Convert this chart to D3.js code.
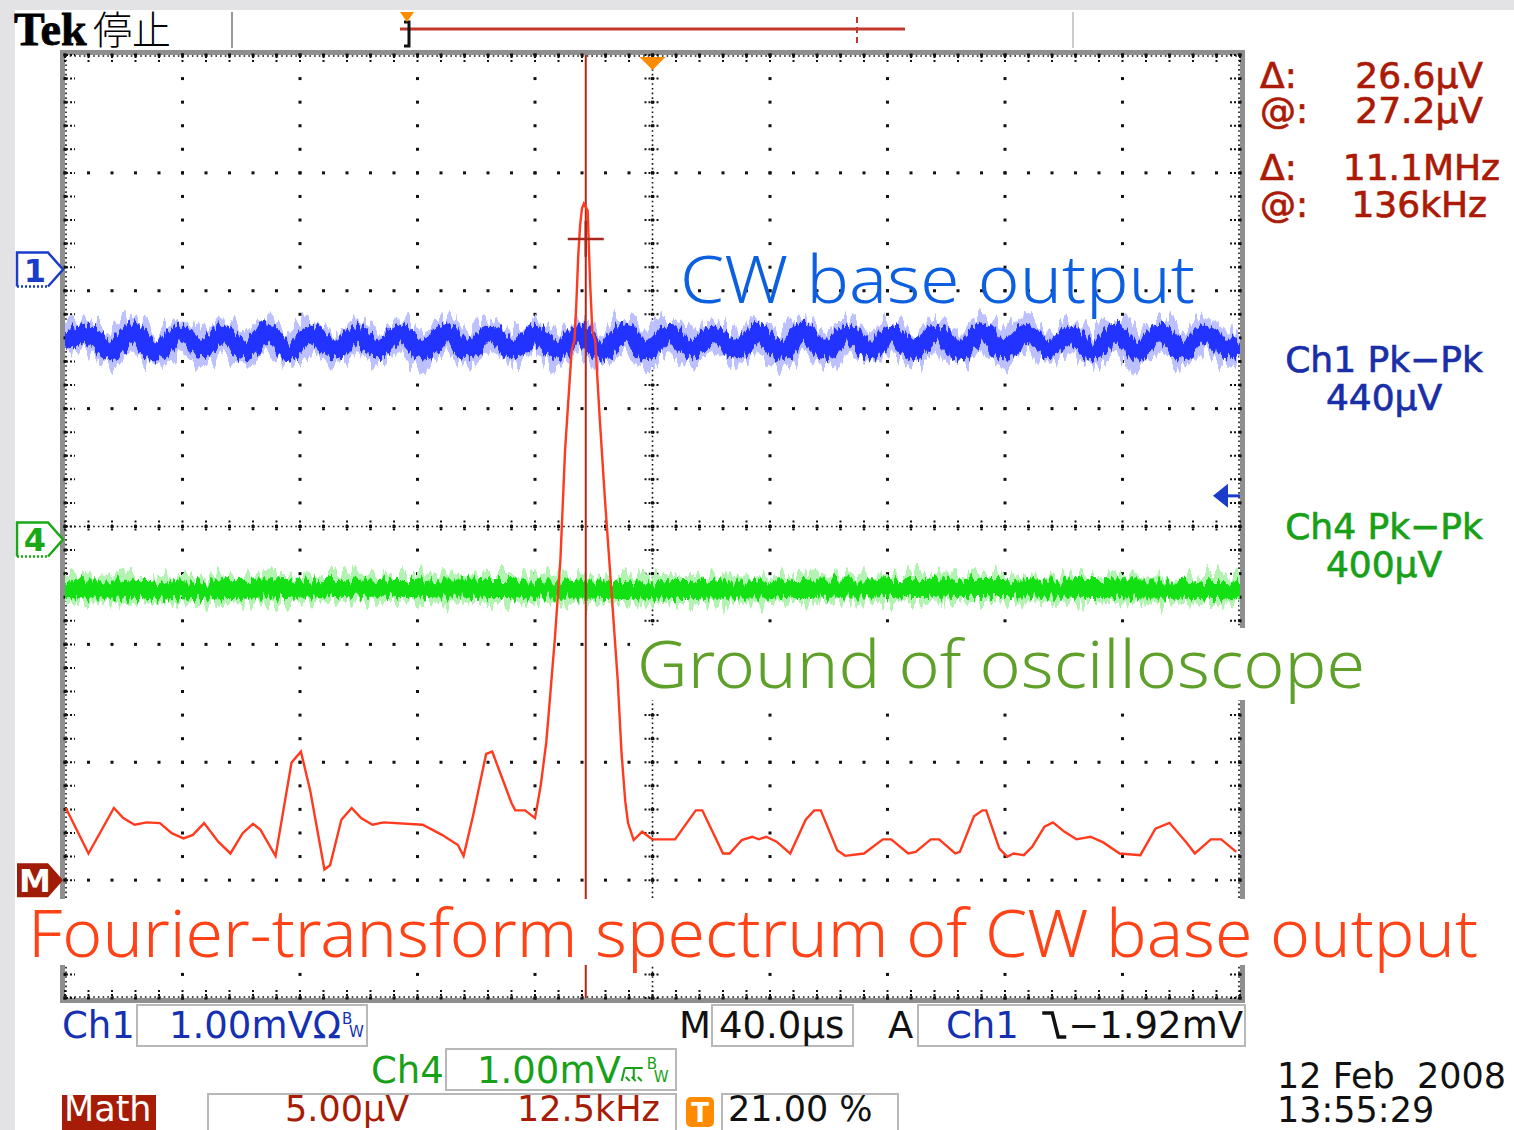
<!DOCTYPE html>
<html>
<head>
<meta charset="utf-8">
<title>Tek FFT screenshot</title>
<script src="https://cdn.jsdelivr.net/npm/d3@7"></script>
<style>
  body { margin: 0; background: #fff; }
  svg { display: block; }
  .lcd { font-family: "DejaVu Sans", sans-serif; }
  .read { font-family: "DejaVu Sans", sans-serif; }
  .note { font-family: "Noto Sans", "Open Sans", sans-serif; font-weight: 300; }
</style>
</head>
<body>
<script>
// ---- data ----
// Ch1 / Ch4 time axis, 40 us/div
var timeDomain = [0, 400];
// Math (FFT) frequency axis, 12.5 kHz/div
var freqDomain = [80.6, 205.6];

// channel settings: volts/div and marker position (div from centre)
var ch1Scale = 1.00, ch1Pos = 2.18;     // mV/div
var ch4Scale = 1.00, ch4Pos = -0.11;    // mV/div
var mathScale = 5.00, mathPos = -3.0;   // uV/div
var trigLevel = -1.92;                  // mV on Ch1

// Ch1 ripple centre line [us, mV]
var ch1Samples = [
  [0,-0.62],[7.8,-0.54],[15.4,-0.69],[23.1,-0.53],[31.0,-0.70],[39.1,-0.54],
  [46.5,-0.68],[53.8,-0.55],[61.3,-0.69],[68.8,-0.53],[76.4,-0.70],[84.0,-0.54],
  [91.6,-0.69],[99.2,-0.55],[106.8,-0.68],[114.4,-0.54],[122.0,-0.70],[129.6,-0.53],
  [137.2,-0.69],[144.8,-0.54],[152.4,-0.68],[160.0,-0.55],[167.6,-0.69],[175.2,-0.54],
  [182.8,-0.70],[190.4,-0.53],[198.0,-0.69],[205.6,-0.54],[213.2,-0.68],[220.8,-0.55],
  [228.4,-0.69],[236.0,-0.54],[243.6,-0.70],[251.2,-0.53],[258.8,-0.69],[266.4,-0.54],
  [274.0,-0.68],[281.6,-0.55],[289.2,-0.69],[296.8,-0.54],[304.4,-0.70],[312.0,-0.53],
  [319.6,-0.69],[327.2,-0.54],[334.8,-0.68],[342.4,-0.55],[350.0,-0.69],[357.6,-0.54],
  [365.2,-0.70],[372.8,-0.53],[380.4,-0.69],[388.0,-0.54],[395.6,-0.68],[400,-0.62]
];
// Ch4 (scope ground) centre line [us, mV]
var ch4Samples = [
  [0,-0.42],[50,-0.43],[100,-0.41],[150,-0.42],[200,-0.43],
  [250,-0.42],[300,-0.41],[350,-0.42],[400,-0.43]
];
// Math FFT trace [kHz, uV]
var mathSamples = [
  [80.7,3.05],[83.1,1.13],[85.8,3.06],[86.8,2.63],[88.0,2.35],[89.3,2.45],[90.7,2.42],
  [91.95,1.99],[93.2,1.77],[94.2,1.92],[95.4,2.42],[96.9,1.63],[98.2,1.13],[99.5,1.99],
  [100.6,2.39],[101.4,2.13],[103.0,1.02],[104.7,4.99],[105.7,5.45],[106.7,3.77],
  [108.2,0.45],[108.8,0.63],[110.0,2.56],[111.1,3.06],[112.1,2.63],[113.3,2.35],
  [114.5,2.45],[118.65,2.35],[120.7,1.92],[122.4,1.49],[123.0,1.02],[124.0,2.71],
  [125.4,5.35],[126.05,5.45],[128.1,3.27],[128.5,2.96],[129.55,2.96],[130.6,2.63],
  [131.2,3.99],[131.8,5.85],[132.0,6.79],[132.7,10.18],[133.3,13.57],[133.8,18.24],
  [134.5,22.48],[134.8,22.9],[135.0,24.48],[135.2,26.48],[135.4,27.78],[135.6,28.5],
  [135.8,28.7],[136.2,28.4],[136.45,25.45],[136.7,23.3],[137.0,22.9],[137.5,19.5],
  [138.05,16.1],[138.8,11.9],[139.4,8.48],[139.8,5.42],[140.2,3.35],[140.5,2.42],
  [141.1,1.7],[142.0,2.06],[142.7,1.84],[143.1,1.73],[145.5,1.73],[147.7,2.96],
  [148.4,2.96],[150.6,1.13],[151.3,1.13],[152.6,1.7],[153.7,1.84],[154.4,1.73],
  [155.2,1.84],[156.3,1.63],[157.75,1.13],[159.4,2.56],[160.3,2.96],[161.0,2.96],
  [162.75,1.27],[163.6,1.03],[165.6,1.13],[167.6,1.73],[168.5,1.73],[170.3,1.13],
  [171.1,1.2],[172.7,1.73],[173.6,1.73],[175.3,1.13],[175.8,1.2],[177.3,2.71],
  [178.2,2.96],[178.6,2.96],[180.0,1.34],[180.85,0.99],[181.5,1.13],[182.6,1.06],
  [183.5,1.42],[184.8,2.27],[185.7,2.45],[186.9,2.06],[188.2,1.73],[189.7,1.84],
  [191.05,1.6],[192.8,1.13],[195.0,1.06],[196.6,2.18],[198.1,2.43],[199.9,1.6],
  [200.8,1.13],[202.5,1.73],[203.6,1.73],[205.2,1.2]
];
// cursor (vertical bar + crosshair)
var cursorFreq = 136, cursorAmp = 27.2;

var cursorReadout = [["\u0394:", "26.6\u00b5V"], ["@:", "27.2\u00b5V"], ["\u0394:", "11.1MHz"], ["@:", "136kHz"]];
var pkpkLabels = [["Ch1 Pk\u2212Pk", "440\u00b5V"], ["Ch4 Pk\u2212Pk", "400\u00b5V"]];
var notes = ["CW base output", "Ground of oscilloscope", "Fourier-transform spectrum of CW base output"];

// ---- layout ----
var W = 1514, H = 1130;
var gx0 = 65, gx1 = 1240, gy0 = 55, gy1 = 998;

var svg = d3.select("body").append("svg").attr("width", W).attr("height", H);
var defs = svg.append("defs");

// noise texture for the persistence traces (vertical jitter only)
function jitter(id, freq, scale, seed) {
  var f = defs.append("filter").attr("id", id)
    .attr("filterUnits", "userSpaceOnUse")
    .attr("x", gx0).attr("y", gy0).attr("width", gx1 - gx0).attr("height", gy1 - gy0)
    .attr("color-interpolation-filters", "sRGB");
  f.append("feTurbulence").attr("type", "fractalNoise").attr("baseFrequency", freq)
    .attr("numOctaves", 2).attr("seed", seed).attr("result", "n");
  f.append("feColorMatrix").attr("in", "n").attr("type", "matrix")
    .attr("values", "0 0 0 0 0.5  0 1 0 0 0  0 0 0 0 0  0 0 0 0 1").attr("result", "m");
  f.append("feDisplacementMap").attr("in", "SourceGraphic").attr("in2", "m")
    .attr("scale", scale).attr("xChannelSelector", "R").attr("yChannelSelector", "G");
}
jitter("jA", "0.22 0.02", 34, 3);
jitter("jB", "0.35 0.03", 18, 7);
jitter("jC", "0.2 0.02", 34, 11);
jitter("jD", "0.3 0.03", 18, 15);

// scales
var xDiv = d3.scaleLinear().domain([-5, 5]).range([gx0, gx1]);
var yDiv = d3.scaleLinear().domain([-4, 4]).range([gy1, gy0]);
var xTime = d3.scaleLinear().domain(timeDomain).range([gx0, gx1]);
var xFreq = d3.scaleLinear().domain(freqDomain).range([gx0, gx1]);
function chScale(perDiv, pos) {
  return d3.scaleLinear().domain([(-4 - pos) * perDiv, (4 - pos) * perDiv]).range([gy1, gy0]);
}
var y1 = chScale(ch1Scale, ch1Pos), y4 = chScale(ch4Scale, ch4Pos), yM = chScale(mathScale, mathPos);

// background strips
svg.append("rect").attr("width", W).attr("height", 10).attr("fill", "#e3e3e5");
svg.append("rect").attr("width", 15).attr("height", H).attr("fill", "#e3e3e5");

// ---- header ----
svg.append("text").attr("x", 14).attr("y", 45).attr("font-family", "Liberation Serif")
  .attr("font-weight", "bold").attr("font-size", 46).attr("stroke", "#000").attr("stroke-width", 0.8).text("Tek");
svg.append("text").attr("x", 93).attr("y", 44).attr("font-family", "Noto Sans CJK JP")
  .attr("font-weight", 300).attr("font-size", 39).text("\u505c\u6b62");
svg.append("line").attr("x1", 232).attr("x2", 232).attr("y1", 12).attr("y2", 48).attr("stroke", "#999").attr("stroke-width", 2);
svg.append("line").attr("x1", 1073).attr("x2", 1073).attr("y1", 12).attr("y2", 48).attr("stroke", "#ccc").attr("stroke-width", 2);
svg.append("line").attr("x1", 400).attr("x2", 905).attr("y1", 29).attr("y2", 29).attr("stroke", "#c0392b").attr("stroke-width", 3);
svg.append("line").attr("x1", 857).attr("x2", 857).attr("y1", 17).attr("y2", 44).attr("stroke", "#c0392b").attr("stroke-width", 2).attr("stroke-dasharray", "6,4");
svg.append("path").attr("d", "M404,22 H409 V46 H404").attr("fill", "none").attr("stroke", "#111").attr("stroke-width", 3);
svg.append("path").attr("d", "M400,12 L414,12 L407,22 Z").attr("fill", "#ff8c00");

// ---- graticule ----
var grid = svg.append("g");
grid.append("rect").attr("x", gx0 - 2.5).attr("y", gy0 - 2.5).attr("width", gx1 - gx0 + 5).attr("height", gy1 - gy0 + 5)
  .attr("fill", "none").attr("stroke", "#8f8f8f").attr("stroke-width", 5);

var minorX = d3.range(0, 51).map(function (i) { return -5 + i / 5; });
var minorY = d3.range(0, 41).map(function (i) { return -4 + i / 5; });
var majorX = d3.range(-5, 6), majorY = d3.range(-4, 5);

majorY.forEach(function (r) {
  grid.selectAll(null).data(minorX).enter().append("rect")
    .attr("x", function (d) { return xDiv(d) - 1.5; }).attr("y", yDiv(r) - 1.5)
    .attr("width", 3).attr("height", 3).attr("fill", "#111");
});
majorX.forEach(function (c) {
  grid.selectAll(null).data(minorY).enter().append("rect")
    .attr("x", xDiv(c) - 1.5).attr("y", function (d) { return yDiv(d) - 1.5; })
    .attr("width", 3).attr("height", 3).attr("fill", "#111");
});
function tickedH(y, y1a, y2a) {
  grid.append("line").attr("x1", gx0).attr("x2", gx1).attr("y1", y).attr("y2", y)
    .attr("stroke", "#111").attr("stroke-width", 1.6).attr("stroke-dasharray", "1.6,3.1");
  grid.selectAll(null).data(minorX).enter().append("line")
    .attr("x1", function (d) { return xDiv(d); }).attr("x2", function (d) { return xDiv(d); })
    .attr("y1", y + y1a).attr("y2", y + y2a)
    .attr("stroke", "#111").attr("stroke-width", 2).attr("stroke-dasharray", "2,2");
}
function tickedV(x, x1a, x2a) {
  grid.append("line").attr("y1", gy0).attr("y2", gy1).attr("x1", x).attr("x2", x)
    .attr("stroke", "#111").attr("stroke-width", 1.6).attr("stroke-dasharray", "1.6,3.1");
  grid.selectAll(null).data(minorY).enter().append("line")
    .attr("y1", function (d) { return yDiv(d); }).attr("y2", function (d) { return yDiv(d); })
    .attr("x1", x + x1a).attr("x2", x + x2a)
    .attr("stroke", "#111").attr("stroke-width", 2).attr("stroke-dasharray", "2,2");
}
tickedH(yDiv(0), -6, 6);
tickedV(xDiv(0), -8, 8);
tickedH(gy0 + 1, 0, 7);
tickedV(gx0 + 1, 0, 9);
tickedH(gy1 - 1, -7, 0);
tickedV(gx1 - 1, -9, 0);

// trigger position marker
svg.append("path").attr("d", "M" + (xDiv(0) - 13) + "," + (gy0 + 2) + " h26 l-13,13 Z").attr("fill", "#ff8c00");

// ---- traces ----
var traces = svg.append("g");
var lineCh1 = d3.line().x(function (d) { return xTime(d[0]); }).y(function (d) { return y1(d[1]); }).curve(d3.curveCatmullRom);
var lineCh4 = d3.line().x(function (d) { return xTime(d[0]); }).y(function (d) { return y4(d[1]); }).curve(d3.curveCatmullRom);
var lineM = d3.line().x(function (d) { return xFreq(d[0]); }).y(function (d) { return yM(d[1]); });

traces.append("path").attr("d", lineCh4(ch4Samples)).attr("fill", "none").attr("stroke", "#b2f3b2")
  .attr("stroke-width", 28).attr("filter", "url(#jC)");
traces.append("path").attr("d", lineCh4(ch4Samples)).attr("fill", "none").attr("stroke", "#12e012")
  .attr("stroke-width", 18).attr("filter", "url(#jD)");
traces.append("path").attr("d", lineCh1(ch1Samples)).attr("fill", "none").attr("stroke", "#bcc0ff")
  .attr("stroke-width", 28).attr("filter", "url(#jA)");
traces.append("path").attr("d", lineCh1(ch1Samples)).attr("fill", "none").attr("stroke", "#2233ff")
  .attr("stroke-width", 17).attr("filter", "url(#jB)");

// cursor bar + crosshair
var cx = xFreq(cursorFreq), cy = yM(cursorAmp);
traces.append("line").attr("x1", cx).attr("x2", cx).attr("y1", gy0).attr("y2", gy1).attr("stroke", "#b3261a").attr("stroke-width", 2);
traces.append("path").attr("d", lineM(mathSamples)).attr("fill", "none").attr("stroke", "#ff3a1e").attr("stroke-width", 2.4);
traces.append("line").attr("x1", cx - 18).attr("x2", cx + 18).attr("y1", cy).attr("y2", cy).attr("stroke", "#a8281c").attr("stroke-width", 2.5);
traces.append("line").attr("x1", cx).attr("x2", cx).attr("y1", cy - 18).attr("y2", cy + 18).attr("stroke", "#a8281c").attr("stroke-width", 2.5);

// ---- left channel markers ----
function marker(y, color, label, filled) {
  var g = svg.append("g");
  if (filled) {
    g.append("path").attr("d", "M17," + (y - 17) + " H48 L63," + y + " L48," + (y + 17) + " H17 Z").attr("fill", color);
  } else {
    g.append("path").attr("d", "M17," + (y + 17) + " V" + (y - 17) + " H48 L63," + y + " L48," + (y + 17))
      .attr("fill", "#fff").attr("stroke", color).attr("stroke-width", 2.5);
    g.append("line").attr("x1", 17).attr("x2", 48).attr("y1", y + 17).attr("y2", y + 17)
      .attr("stroke", color).attr("stroke-width", 2.5).attr("stroke-dasharray", "2,2");
  }
  g.append("text").attr("x", 35).attr("y", y + 12).attr("text-anchor", "middle")
    .attr("class", "read").attr("font-weight", "bold").attr("font-size", 32)
    .attr("fill", filled ? "#fff" : color).text(label);
}
marker(y1(0), "#1a3cc8", "1", false);
marker(y4(0), "#18a818", "4", false);
marker(yM(0), "#a01c08", "M", true);

// trigger level arrow (right)
var ty = y1(trigLevel);
svg.append("path").attr("d", "M1213," + ty + " L1228," + (ty - 12) + " V" + (ty + 12) + " Z").attr("fill", "#1a3cc8");
svg.append("line").attr("x1", 1225).attr("x2", 1240).attr("y1", ty).attr("y2", ty).attr("stroke", "#1a3cc8").attr("stroke-width", 3);

// ---- annotations ----
var noteBoxes = [[630, 628, 742, 72], [20, 899, 1466, 66]];
noteBoxes.forEach(function (b) {
  svg.append("rect").attr("x", b[0]).attr("y", b[1]).attr("width", b[2]).attr("height", b[3]).attr("fill", "#fff");
});
var notePos = [[680, 303, 515, "#0c5fe0"], [637, 688, 728, "#5ea02a"], [28, 957, 1450, "#ff4316"]];
notes.forEach(function (t, i) {
  var p = notePos[i];
  svg.append("text").attr("class", "note").attr("x", p[0]).attr("y", p[1]).attr("font-size", 66)
    .attr("textLength", p[2]).attr("lengthAdjust", "spacingAndGlyphs").attr("fill", p[3]).text(t);
});

// ---- right readouts ----
var rr = svg.append("g").attr("class", "read").attr("font-size", 36).attr("fill", "#ab1a06")
  .attr("stroke", "#ab1a06").attr("stroke-width", 0.7);
var rrY = [88, 123, 180, 217], rrEnd = [1483, 1483, 1500, 1487];
cursorReadout.forEach(function (r, i) {
  rr.append("text").attr("x", 1260).attr("y", rrY[i]).text(r[0]);
  rr.append("text").attr("x", rrEnd[i]).attr("y", rrY[i]).attr("text-anchor", "end").text(r[1]);
});
var pkColors = ["#1a2ea8", "#18a018"], pkY = [372, 539];
pkpkLabels.forEach(function (p, i) {
  var g = svg.append("g").attr("class", "read").attr("font-size", 36).attr("fill", pkColors[i])
    .attr("stroke", pkColors[i]).attr("stroke-width", 0.7).attr("text-anchor", "middle");
  g.append("text").attr("x", 1384).attr("y", pkY[i]).text(p[0]);
  g.append("text").attr("x", 1384).attr("y", pkY[i] + 38).text(p[1]);
});

// ---- bottom status ----
var st = svg.append("g").attr("class", "lcd").attr("font-size", 37);
function box(x, y, w, h) {
  st.append("rect").attr("x", x).attr("y", y).attr("width", w).attr("height", h)
    .attr("fill", "none").attr("stroke", "#b8b8b8").attr("stroke-width", 2);
}
function txt(x, y, color, s) {
  return st.append("text").attr("x", x).attr("y", y).attr("fill", color).text(s);
}
function bw(x, y, color) {
  st.append("text").attr("x", x).attr("y", y - 14).attr("font-size", 15).attr("fill", color).text("B");
  st.append("text").attr("x", x + 7).attr("y", y - 1).attr("font-size", 15).attr("fill", color).text("W");
}
box(137, 1005, 230, 41); box(712, 1005, 141, 41); box(918, 1005, 327, 41);
box(446, 1049, 230, 41); box(208, 1094, 468, 42); box(722, 1094, 176, 42);

txt(62, 1038, "#1530b0", "Ch1");
var t1 = txt(169, 1038, "#1530b0", "1.00mV\u03a9");
bw(169 + t1.node().getComputedTextLength() + 1, 1038, "#1530b0");
txt(679, 1038, "#111", "M");
txt(719, 1038, "#111", "40.0\u00b5s");
txt(888, 1038, "#111", "A");
txt(946, 1038, "#1530b0", "Ch1");
var t2 = txt(1243, 1038, "#111", "\u22121.92mV").attr("text-anchor", "end");
var sx = 1243 - t2.node().getComputedTextLength() - 26;
st.append("path").attr("d", "M" + sx + ",1013 h10 l6,24 h8").attr("fill", "none").attr("stroke", "#111").attr("stroke-width", 3.5);

txt(371, 1083, "#18a018", "Ch4");
var t3 = txt(477, 1083, "#18a018", "1.00mV");
var gx = 477 + t3.node().getComputedTextLength() + 4;
st.append("path").attr("d", "M" + gx + ",1068 h18 M" + (gx + 9) + ",1068 v10 M" + gx + ",1068 l-3,13 M" +
  (gx + 5) + ",1081 l-4,-4 M" + (gx + 11) + ",1081 l-4,-4 M" + (gx + 17) + ",1081 l-4,-4")
  .attr("fill", "none").attr("stroke", "#18a018").attr("stroke-width", 2);
bw(gx + 22, 1083, "#18a018");

st.append("rect").attr("x", 62).attr("y", 1095).attr("width", 94).attr("height", 37).attr("fill", "#a61c06");
var row3 = st.append("g").attr("font-size", 35);
row3.append("text").attr("x", 64).attr("y", 1121).attr("fill", "#fff").text("Math");
row3.append("text").attr("x", 285).attr("y", 1121).attr("fill", "#a61c06").text("5.00\u00b5V");
row3.append("text").attr("x", 517).attr("y", 1121).attr("fill", "#a61c06").text("12.5kHz");
st.append("rect").attr("x", 686).attr("y", 1097).attr("width", 28).attr("height", 30).attr("rx", 5).attr("fill", "#ff8c00");
st.append("text").attr("x", 700).attr("y", 1122).attr("text-anchor", "middle").attr("font-size", 26).attr("font-weight", "bold").attr("fill", "#fff").text("T");
row3.append("text").attr("x", 728).attr("y", 1121).attr("fill", "#111").text("21.00 %");

txt(1277, 1088, "#111", "12 Feb  2008").attr("xml:space", "preserve").attr("font-size", 35);
txt(1277, 1122, "#111", "13:55:29").attr("font-size", 35);
</script>
</body>
</html>
